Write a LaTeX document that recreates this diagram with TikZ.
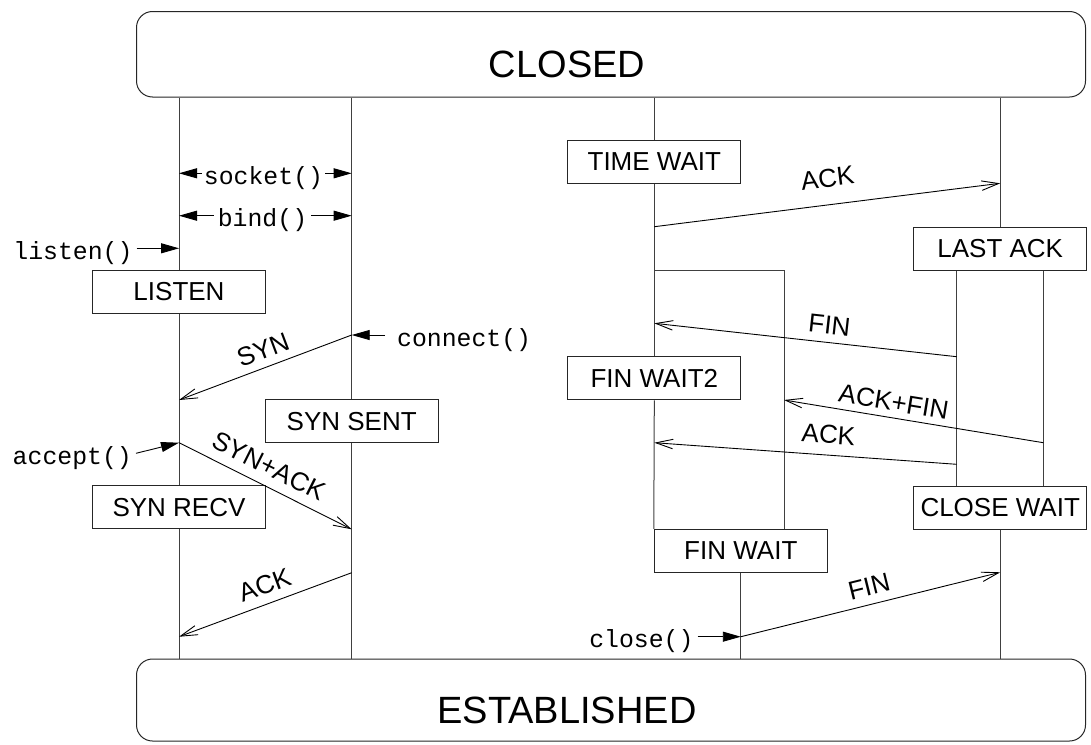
\documentclass[tikz,border=0pt]{standalone}
\usepackage{fontspec}
\newfontfamily\sansf{Liberation Sans}
\newfontfamily\monof{Liberation Mono}
\usetikzlibrary{arrows.meta}
\begin{document}
\begin{tikzpicture}[x=1pt,y=-1pt,
  state/.style={draw=black!85, line width=1pt, fill=white, minimum width=173pt, minimum height=43pt, inner sep=0pt, font=\sansf\fontsize{26}{30}\selectfont},
  bigbox/.style={draw=black!85, line width=1pt, rounded corners=16pt, fill=white, minimum width=949pt, inner sep=0pt},
  bigtext/.style={font=\sansf\fontsize{38}{44}\selectfont, inner sep=0pt},
  life/.style={draw=black!75, line width=1pt},
  msg/.style={draw=black, line width=0.9pt, -{Straight Barb[length=17pt,width=9.5pt,line width=0.9pt]}},
  call/.style={draw=black, line width=0.9pt, -{Triangle[length=18pt,width=10pt]}},
  lab/.style={font=\sansf\fontsize{26}{30}\selectfont, inner sep=0pt},
  fn/.style={font=\monof\fontsize{24.8}{30}\selectfont, inner ysep=0pt},
]
\useasboundingbox (0,0) rectangle (1091,744);

% big state boxes
\node[bigbox, minimum height=85.5pt, label={[bigtext, xshift=-44pt, yshift=-9.75pt]center:CLOSED}] (closed) at (611,54.25) {};
\node[bigbox, minimum height=82pt, label={[bigtext, xshift=-44pt, yshift=-10pt]center:ESTABLISHED}] (est) at (611,700) {};

% state boxes
\node[state] (LISTEN) at (179,291.7) {LISTEN};
\node[state] (SYNSENT) at (351.7,421.3) {SYN SENT};
\node[state] (SYNRECV) at (179,507.3) {SYN RECV};
\node[state] (TIMEWAIT) at (654.3,161.8) {TIME WAIT};
\node[state] (LASTACK) at (1000.2,248.5) {LAST ACK};
\node[state] (FINWAIT2) at (654.3,378.3) {FIN WAIT2};
\node[state] (FINWAIT) at (740.8,550.8) {FIN WAIT};
\node[state] (CLOSEWAIT) at (1000.2,507.7) {CLOSE WAIT};

% message end points
\coordinate (synS) at (351.7,335);
\coordinate (synE) at (179,400);
\coordinate (saS) at (179,442.7);
\coordinate (saE) at (351.7,529.3);
\coordinate (akS) at (351.7,572.7);
\coordinate (akE) at (179,636.7);
\coordinate (at1S) at (654.3,226.7);
\coordinate (at1E) at (1000.2,183.3);
\coordinate (fin1S) at (956.7,356.7);
\coordinate (fin1E) at (654.3,323.3);
\coordinate (afS) at (1043.3,442.7);
\coordinate (afE) at (784,400);
\coordinate (ak2S) at (956.7,464.3);
\coordinate (ak2E) at (654.3,442.7);
\coordinate (fin2S) at (740.8,636.7);
\coordinate (fin2E) at (1000.2,572.3);
\coordinate (fork) at (654.3,270.3);

% life lines
\draw[life] (LISTEN.north |- closed.south) -- (LISTEN.north);
\draw[life] (LISTEN.south) -- (SYNRECV.north);
\draw[life] (SYNRECV.south) -- (SYNRECV.south |- est.north);
\draw[life] (SYNSENT.north |- closed.south) -- (SYNSENT.north);
\draw[life] (SYNSENT.south) -- (SYNSENT.south |- est.north);
\draw[life] (TIMEWAIT.north |- closed.south) -- (TIMEWAIT.north);
\draw[life] (TIMEWAIT.south) -- (FINWAIT2.north);
\draw[life] (FINWAIT2.south) -- (FINWAIT.north west);
\draw[life] (fork) -| (FINWAIT.north -| afE);
\draw[life] (FINWAIT.south) -- (FINWAIT.south |- est.north);
\draw[life] (LASTACK.north |- closed.south) -- (LASTACK.north);
\draw[life] (LASTACK.south -| fin1S) -- (CLOSEWAIT.north -| fin1S);
\draw[life] (LASTACK.south -| afS) -- (CLOSEWAIT.north -| afS);
\draw[life] (CLOSEWAIT.south) -- (CLOSEWAIT.south |- est.north);

% function calls
\node[fn, anchor=base, inner xsep=2pt] (sock) at (263.5,184.3) {socket()};
\node[fn, anchor=base, inner xsep=4pt] (bnd) at (262.5,226.7) {bind()};
\node[fn, anchor=base east, inner xsep=4pt] (lis) at (136.7,259.3) {listen()};
\node[fn, anchor=base west, inner xsep=12pt] (con) at (385,346) {connect()};
\node[fn, anchor=base east, inner xsep=4pt] (acc) at (136,464.3) {accept()};
\node[fn, anchor=base east, inner xsep=4pt] (clo) at (697.7,647.7) {close()};

\coordinate (sockW) at ([yshift=11pt]sock.base west);
\coordinate (sockE) at ([yshift=11pt]sock.base east);
\coordinate (bndW) at ([yshift=11pt]bnd.base west);
\coordinate (bndE) at ([yshift=11pt]bnd.base east);
\coordinate (lisE) at ([yshift=11pt]lis.base east);
\coordinate (conW) at ([yshift=11pt]con.base west);
\coordinate (accE) at ([yshift=11pt]acc.base east);
\coordinate (cloE) at ([yshift=11pt]clo.base east);

\draw[call] (sockW) -- (sockW -| LISTEN.north);
\draw[call] (sockE) -- (sockE -| SYNSENT.north);
\draw[call] (bndW) -- (bndW -| LISTEN.north);
\draw[call] (bndE) -- (bndE -| SYNSENT.north);
\draw[call] (lisE) -- (lisE -| LISTEN.north);
\draw[call] (conW) -- (synS);
\draw[call] (accE) -- (saS);
\draw[call] (cloE) -- (fin2S);

% messages
\draw[msg] (synS) -- (synE);
\draw[msg] (saS) -- (saE);
\draw[msg] (akS) -- (akE);
\draw[msg] (at1S) -- (at1E);
\draw[msg] (fin1S) -- (fin1E);
\draw[msg] (afS) -- (afE);
\draw[msg] (ak2S) -- (ak2E);
\draw[msg] (fin2S) -- (fin2E);

% message labels
\node[lab, rotate=20.6] (lsyn) at (263,350) {SYN};
\node[lab, rotate=-26.6] (lsa) at (269,466) {SYN+ACK};
\node[lab, rotate=20.3] (lak) at (264.7,585) {ACK};
\node[lab, rotate=7.1] (lat1) at (827.5,178) {ACK};
\node[lab, rotate=-6.3] (lfin1) at (829.5,325) {FIN};
\node[lab, rotate=-9.35] (laf) at (893.7,402) {ACK+FIN};
\node[lab, rotate=-4.1] (lak2) at (828.5,434.5) {ACK};
\node[lab, rotate=13.8] (lfin2) at (869,586.5) {FIN};
\end{tikzpicture}
\end{document}
